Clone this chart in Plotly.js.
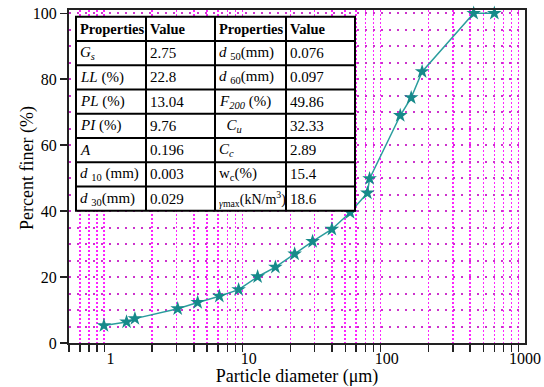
<!DOCTYPE html>
<html>
<head>
<meta charset="utf-8">
<script src="https://cdn.plot.ly/plotly-3.0.1.min.js"></script>
<style>html,body{margin:0;padding:0;background:#fff;}#chart{width:544px;height:387px;}</style>
</head>
<body>
<div id="chart"></div>
<script>
// Particle size distribution data (diameter in µm, percent finer)
const diameter = [0.895, 1.305, 1.5, 3.06, 4.27, 6.13, 8.45, 11.6, 15.6, 21.5, 29.0, 40.0, 54.2, 72.3, 75, 125, 150, 180, 425, 600];
const percentFiner = [5.3, 6.4, 7.4, 10.4, 12.3, 14.2, 16.2, 20.1, 23.0, 27.0, 30.8, 34.5, 39.6, 45.5, 49.86, 69.0, 74.4, 82.3, 100, 100];

// Axis ticks and titles
const xMajorTicks = [1, 10, 100, 1000];
const xMajorLabels = ['1', '10', '100', '1000'];
const xMinorTicks = [0.5, 0.6, 0.7, 0.8, 0.9, 2, 3, 4, 5, 6, 7, 8, 9, 20, 30, 40, 50, 60, 70, 80, 90, 200, 300, 400, 500, 600, 700, 800, 900];
const yTicks = [0, 20, 40, 60, 80, 100];
const xTitle = 'Particle diameter (μm)';
const yTitle = 'Percent finer (%)';

// Soil properties table
const tableHeaders = ['Properties', 'Value', 'Properties', 'Value'];
const propsLeft = ['<i>G<sub>s</sub></i>', '<i>LL</i> (%)', '<i>PL</i> (%)', '<i>PI</i> (%)', '<i>A</i>', '<i>d</i> <sub>10</sub> (mm)', '<i>d</i> <sub>30</sub>(mm)'];
const valsLeft = ['2.75', '22.8', '13.04', '9.76', '0.196', '0.003', '0.029'];
const propsRight = ['<i>d</i> <sub>50</sub>(mm)', '<i>d</i> <sub>60</sub>(mm)', '<i>F<sub>200</sub></i> (%)', '\u00a0\u00a0<i>C<sub>u</sub></i>', '<i>C<sub>c</sub></i>', 'w<sub>c</sub>(%)', '<sub><i>γ</i>max</sub>(kN/m<sup>3</sup>)'];
const valsRight = ['0.076', '0.097', '49.86', '32.33', '2.89', '15.4', '18.6'];

const W = 544, H = 387;
const M = {l: 69, r: 19, t: 10, b: 44};
const PW = W - M.l - M.r, PH = H - M.t - M.b;
const px2x = px => (px - M.l) / PW;
const px2y = py => (H - M.b - py) / PH;

const FONT = '"Liberation Serif", "Times New Roman", serif';

// table geometry (pixels)
const colEdges = [76, 146, 215, 286, 355];
const rowTop = 16.7, rowH = 24.25, nRows = 8;

const shapes = [];
const annotations = [];
const tx0 = px2x(colEdges[0]), tx1 = px2x(colEdges[4]);
const ty0 = px2y(rowTop), ty1 = px2y(rowTop + rowH * nRows);
shapes.push({type: 'rect', xref: 'paper', yref: 'paper', x0: tx0, x1: tx1, y0: ty1, y1: ty0,
  fillcolor: '#ffffff', line: {color: '#000', width: 2}, layer: 'above'});
for (let c = 1; c < colEdges.length - 1; c++) {
  shapes.push({type: 'line', xref: 'paper', yref: 'paper', x0: px2x(colEdges[c]), x1: px2x(colEdges[c]), y0: ty1, y1: ty0,
    line: {color: '#000', width: 2}, layer: 'above'});
}
for (let r = 1; r < nRows; r++) {
  const yy = px2y(rowTop + rowH * r);
  shapes.push({type: 'line', xref: 'paper', yref: 'paper', x0: tx0, x1: tx1, y0: yy, y1: yy,
    line: {color: '#000', width: 2}, layer: 'above'});
}
function cell(text, col, row, size) {
  annotations.push({xref: 'paper', yref: 'paper', x: px2x(colEdges[col] + 2), y: px2y(rowTop + rowH * (row + 0.5)),
    xanchor: 'left', yanchor: 'middle', text: text, showarrow: false,
    font: {family: FONT, size: size || 15, color: '#000'}});
}
tableHeaders.forEach((h, i) => cell('<b>' + h + '</b>', i, 0, 14.5));
for (let i = 0; i < propsLeft.length; i++) {
  cell(propsLeft[i], 0, i + 1);
  cell(valsLeft[i], 1, i + 1);
  cell(propsRight[i], 2, i + 1, i === propsRight.length - 1 ? 14 : 15);
  cell(valsRight[i], 3, i + 1);
}
// y-axis title placed close to the two-digit tick labels, as in the reference
annotations.push({xref: 'paper', yref: 'paper', x: px2x(27), y: px2y(168), xanchor: 'center', yanchor: 'middle',
  text: yTitle, textangle: -90, showarrow: false, font: {family: FONT, size: 18, color: '#000'}});

const trace = {
  x: diameter, y: percentFiner, type: 'scatter', mode: 'lines+markers',
  line: {color: '#2a9d9d', width: 1.5},
  marker: {symbol: 'star', size: 11, color: '#168a8a', line: {width: 0}},
  cliponaxis: false, hoverinfo: 'x+y'
};

const layout = {
  width: W, height: H, margin: M,
  paper_bgcolor: '#fff', plot_bgcolor: '#fff',
  showlegend: false,
  font: {family: FONT, size: 15, color: '#000'},
  xaxis: {
    type: 'log', range: [Math.log10(0.5), 3],
    tickmode: 'array', tickvals: xMajorTicks, ticktext: xMajorLabels,
    ticks: '', showgrid: false, zeroline: false,
    showline: true, linecolor: '#222', linewidth: 2, mirror: true,
    tickfont: {family: FONT, size: 16},
    minor: {tickmode: 'array', tickvals: xMinorTicks, ticks: 'outside', ticklen: 7, tickwidth: 1.5, tickcolor: '#222',
      showgrid: true, gridcolor: '#ff22ff', gridwidth: 1.6, griddash: '2px,2px'},
    title: {text: xTitle, font: {family: FONT, size: 18}, standoff: 4}
  },
  yaxis: {
    range: [0, 101], tickmode: 'array', tickvals: yTicks,
    ticks: 'outside', ticklen: 7, tickwidth: 1.5, tickcolor: '#222',
    showgrid: true, gridcolor: '#cc33cc', gridwidth: 2, griddash: '2px,6px',
    zeroline: false, showline: true, linecolor: '#222', linewidth: 2, mirror: true,
    tickfont: {family: FONT, size: 16},
    minor: {tickmode: 'linear', tick0: 0, dtick: 5, ticks: '', showgrid: true, gridcolor: '#cc33cc', gridwidth: 2, griddash: '2px,6px'}
  },
  shapes: shapes,
  annotations: annotations
};

Plotly.newPlot('chart', [trace], layout, {displayModeBar: false, staticPlot: true});
</script>
</body>
</html>
